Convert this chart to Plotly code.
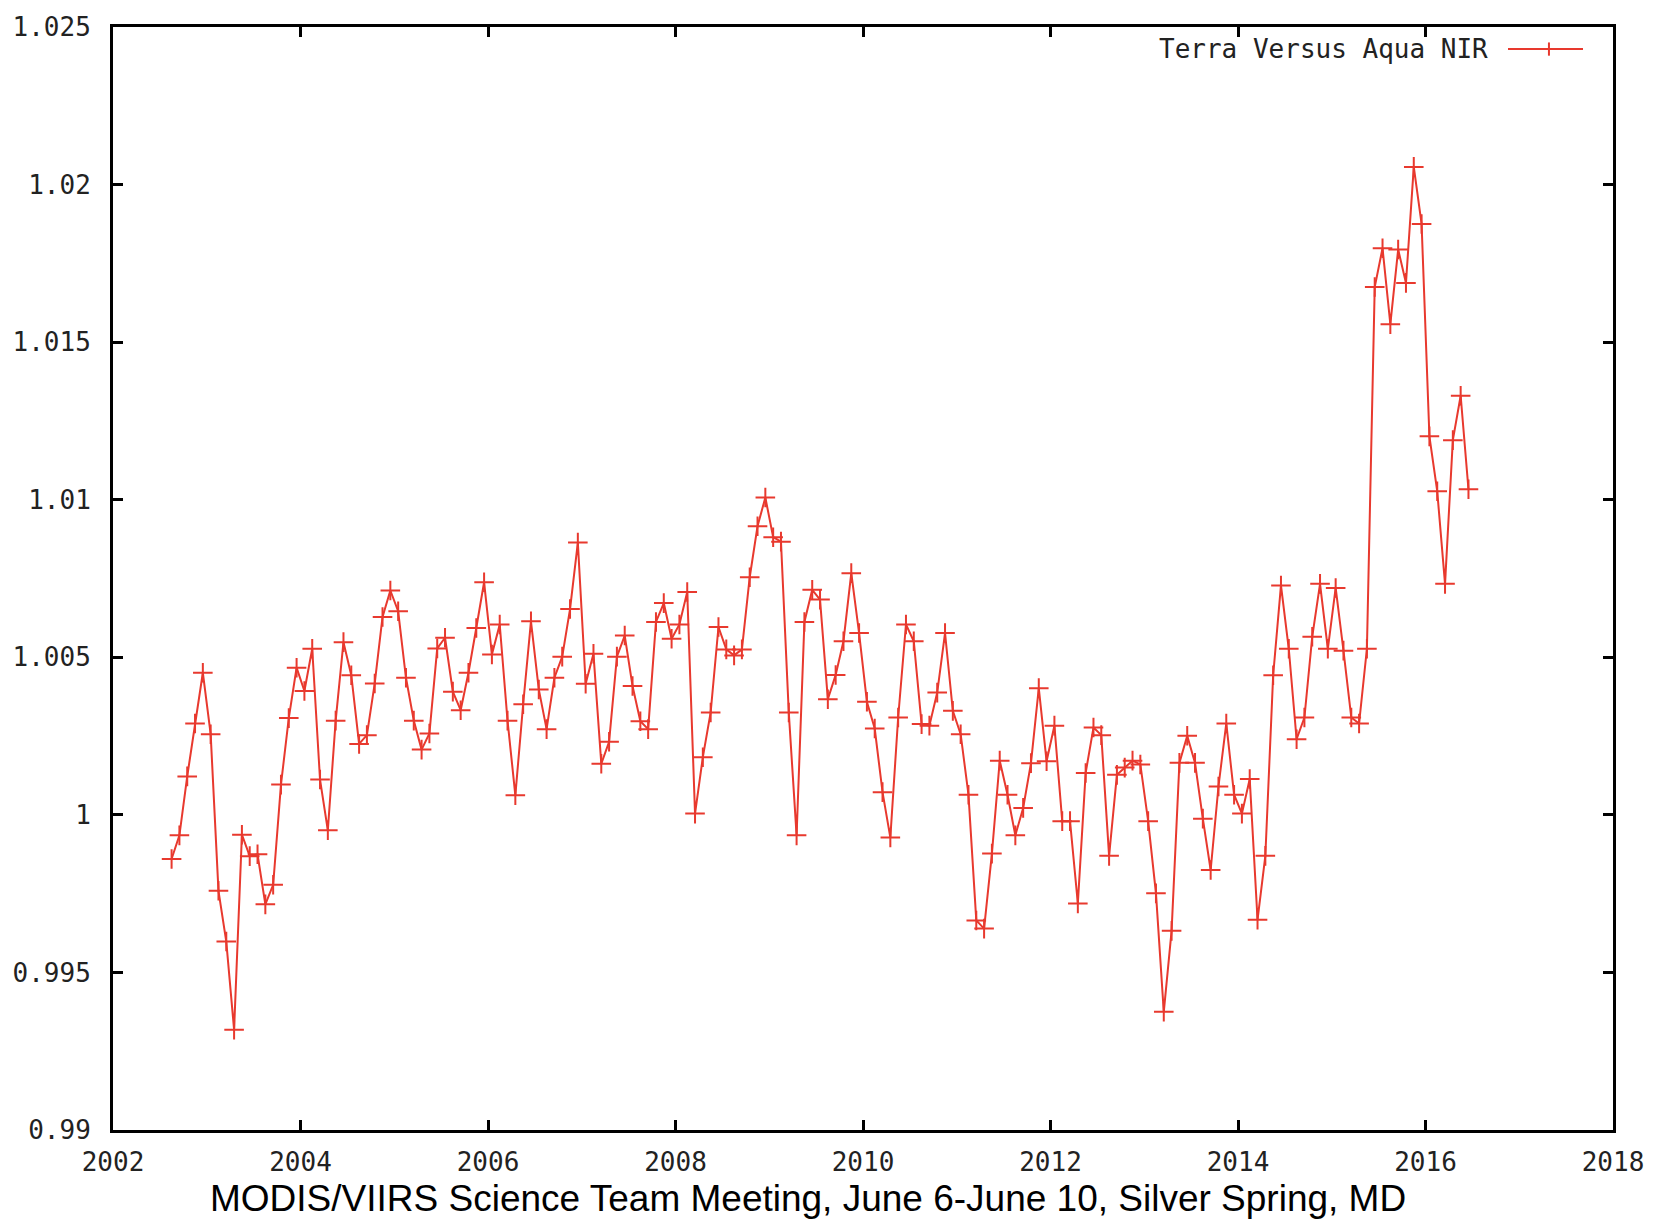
import plotly.graph_objects as go

# ---- data ----
start_year = 2002.625   # first monthly sample (Aug 2002)
months_per_year = 12
ratio = [
    0.9986, 0.99935, 1.00122, 1.0029, 1.00451, 1.00256, 0.99759, 0.99598, 0.99318, 0.99937,
    0.99869, 0.99875, 0.99716, 0.99778, 1.00096, 1.00307, 1.00467, 1.00393, 1.00527, 1.00112,
    0.99951, 1.00299, 1.00548, 1.00443, 1.00225, 1.00253, 1.00417, 1.00628, 1.00712, 1.00646,
    1.00435, 1.00299, 1.00207, 1.00258, 1.00528, 1.00562, 1.00391, 1.00332, 1.00451, 1.00593,
    1.00738, 1.00509, 1.00604, 1.00299, 1.00062, 1.00351, 1.00614, 1.00398, 1.00272, 1.00435,
    1.00502, 1.00653, 1.00864, 1.00416, 1.00511, 1.00162, 1.00232, 1.00502, 1.00569, 1.00409,
    1.00297, 1.00272, 1.00612, 1.00672, 1.00559, 1.00604, 1.00707, 1.00004, 1.00183, 1.00325,
    1.00596, 1.00525, 1.00506, 1.00525, 1.00754, 1.00916, 1.01007, 1.00881, 1.00867, 1.00325,
    0.99935, 1.00612, 1.00714, 1.00683, 1.00367, 1.00444, 1.00551, 1.00767, 1.00577, 1.00359,
    1.00274, 1.00072, 0.99928, 1.00309, 1.00604, 1.00551, 1.00288, 1.00283, 1.00388, 1.00577,
    1.0033, 1.00256, 1.00064, 0.99665, 0.99639, 0.99877, 1.00172, 1.00064, 0.99935, 1.00022,
    1.00164, 1.00402, 1.0017, 1.00283, 0.9998, 0.9998, 0.99719, 1.00133, 1.00277, 1.00253,
    0.9987, 1.00127, 1.0015, 1.00172, 1.0016, 0.9998, 0.99751, 0.99375, 0.99632, 1.00165,
    1.00251, 1.00165, 0.99988, 0.99825, 1.0009, 1.0029, 1.00064, 1.00004, 1.00114, 0.99667,
    0.9987, 1.00443, 1.00728, 1.00527, 1.0024, 1.00309, 1.00565, 1.00733, 1.00527, 1.0072,
    1.00521, 1.00309, 1.0029, 1.00527, 1.01675, 1.01798, 1.01557, 1.01794, 1.01688, 1.02056,
    1.01875, 1.01201, 1.01027, 1.00733, 1.01189, 1.0133, 1.01033,
]
years = [start_year + i / months_per_year for i in range(len(ratio))]

series_name = "Terra Versus Aqua NIR"
x_ticks = [2002, 2004, 2006, 2008, 2010, 2012, 2014, 2016, 2018]
y_ticks = [0.99, 0.995, 1.0, 1.005, 1.01, 1.015, 1.02, 1.025]
y_ticktext = ["0.99", "0.995", "1", "1.005", "1.01", "1.015", "1.02", "1.025"]
footer = "MODIS/VIIRS Science Team Meeting, June 6-June 10, Silver Spring, MD"

RED = "#e8392e"
MONO = "DejaVu Sans Mono"

fig = go.Figure()
fig.add_trace(go.Scatter(
    x=years, y=ratio, mode="lines+markers", name=series_name,
    line=dict(color=RED, width=2),
    marker=dict(symbol="cross-thin", size=14, line=dict(color=RED, width=2)),
    showlegend=False,
))

axis_common = dict(
    showline=True, linecolor="black", linewidth=3, mirror="ticks",
    ticks="inside", ticklen=10, tickwidth=3, tickcolor="black",
    showgrid=False, zeroline=False,
    tickfont=dict(family=MONO, size=26, color="#222222"),
)
fig.update_xaxes(range=[2002, 2018], tickvals=x_ticks, ticktext=[str(v) for v in x_ticks],
                 ticklabelstandoff=7, **axis_common)
fig.update_yaxes(range=[0.99, 1.025], tickvals=y_ticks, ticktext=y_ticktext,
                 ticklabelstandoff=14, **axis_common)

# legend drawn manually (text left of sample, gnuplot style)
lx0, lx1, lxm, ly = 0.93, 0.98, 0.9573, 0.98
fig.add_annotation(x=0.918, y=ly, xref="paper", yref="paper", text=series_name,
                   showarrow=False, xanchor="right", yanchor="middle",
                   font=dict(family=MONO, size=26, color="#222222"))
fig.add_shape(type="line", xref="paper", yref="paper", x0=lx0, x1=lx1, y0=ly, y1=ly,
              line=dict(color=RED, width=2))
fig.add_shape(type="line", xref="paper", yref="paper", x0=lxm, x1=lxm, y0=ly - 0.006, y1=ly + 0.006,
              line=dict(color=RED, width=2))

fig.add_annotation(x=0.463, y=-0.0625, xref="paper", yref="paper", text=footer,
                   showarrow=False, xanchor="center", yanchor="middle",
                   font=dict(family="Liberation Sans", size=37, color="black"))

fig.update_layout(
    width=1663, height=1220,
    margin=dict(l=113, r=50, t=21, b=90),
    plot_bgcolor="white", paper_bgcolor="white",
)

fig.write_html("out.html")
